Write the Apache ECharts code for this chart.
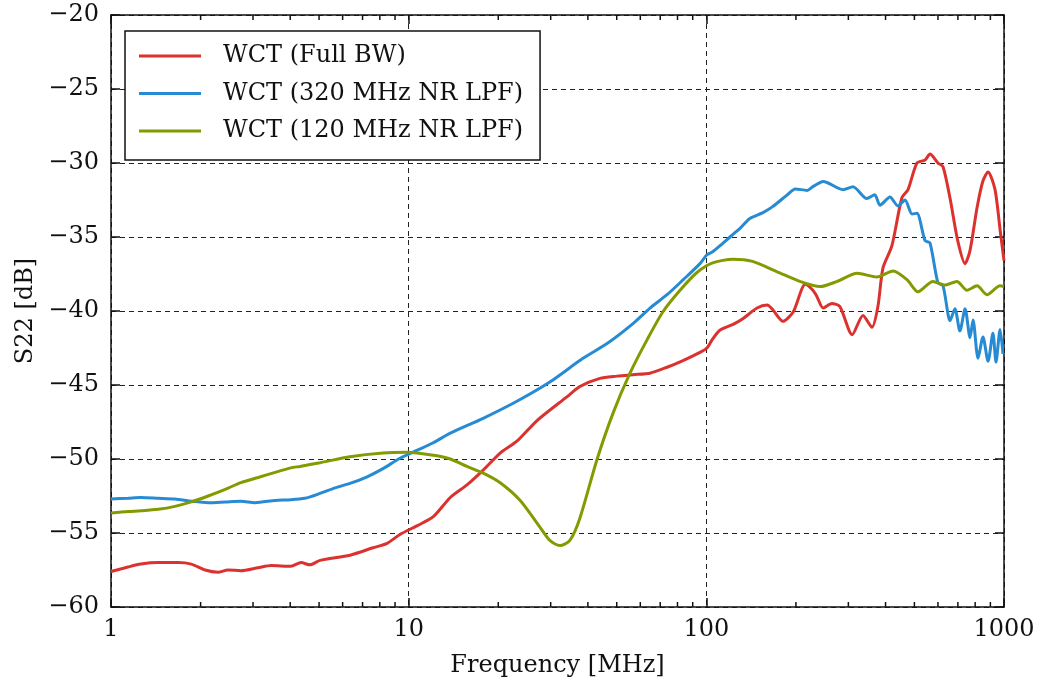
<!DOCTYPE html>
<html>
<head>
<meta charset="utf-8">
<script src="https://cdn.jsdelivr.net/npm/echarts@6/dist/echarts.min.js"></script>
<style>
  html, body { margin: 0; padding: 0; background: #fff; }
  #chart { width: 1040px; height: 686px; }
</style>
</head>
<body>
<div id="chart"></div>
<script>
// S22 reflection of the wall-current transformer, frequency in MHz vs dB
const SERIES_NAMES = ['WCT (Full BW)', 'WCT (320 MHz NR LPF)', 'WCT (120 MHz NR LPF)'];
const SERIES_COLORS = ['#dc322f', '#268bd2', '#859900'];

const fullBW = [
  [1.00,-57.6],[1.14,-57.3],[1.26,-57.1],[1.44,-57.0],[1.68,-57.0],[1.86,-57.1],[2.07,-57.5],
  [2.29,-57.65],[2.47,-57.5],[2.73,-57.55],[3.12,-57.35],[3.45,-57.2],[4.02,-57.25],[4.35,-57.0],
  [4.66,-57.15],[5.04,-56.85],[6.35,-56.5],[7.59,-56.0],[8.46,-55.7],[9.35,-55.1],[10.7,-54.5],
  [12.1,-53.9],[13.8,-52.6],[15.7,-51.75],[17.8,-50.75],[20.3,-49.6],[23.1,-48.8],[27.0,-47.4],
  [34.0,-45.8],[37.6,-45.1],[43.9,-44.55],[50.1,-44.4],[56.7,-44.3],[64.7,-44.2],[73.8,-43.8],
  [83.5,-43.35],[95.2,-42.8],[100.5,-42.5],[104.5,-41.95],[111,-41.3],[123,-40.9],[133,-40.5],
  [148,-39.8],[160,-39.6],[167,-39.9],[181,-40.7],[196,-40.05],[215,-38.2],[228,-38.6],[235,-39.0],
  [247,-39.8],[264,-39.5],[281,-39.7],[309,-41.6],[336,-40.3],[360,-41.1],[377,-39.7],[392,-37.1],
  [420,-35.6],[454,-32.35],[476,-31.8],[510,-30.0],[543,-29.8],[564,-29.4],[600,-30.0],[624,-30.25],
  [659,-32.4],[700,-35.3],[740,-36.8],[769,-35.9],[812,-33.0],[850,-31.2],[884,-30.6],[933,-31.8],
  [970,-34.5],[1000,-36.6]
];

const lpf320 = [
  [1.00,-52.7],[1.14,-52.65],[1.26,-52.6],[1.44,-52.65],[1.64,-52.7],[1.86,-52.85],[2.12,-52.95],
  [2.42,-52.9],[2.73,-52.85],[3.05,-52.95],[3.56,-52.8],[4.02,-52.75],[4.48,-52.65],[4.92,-52.4],
  [5.57,-52.0],[6.35,-51.65],[7.25,-51.2],[8.20,-50.65],[9.35,-49.95],[10.7,-49.4],[12.1,-48.9],
  [13.8,-48.25],[17.8,-47.25],[23.1,-46.1],[29.8,-44.8],[38.5,-43.2],[46.4,-42.2],[56.7,-40.85],
  [64.7,-39.8],[73.8,-38.9],[83.5,-37.9],[95.2,-36.8],[100.5,-36.2],[105,-36.0],[111,-35.6],
  [120,-35.0],[130,-34.4],[140,-33.75],[155,-33.35],[167,-32.95],[187,-32.15],[199,-31.75],
  [218,-31.85],[228,-31.6],[247,-31.25],[288,-31.8],[311,-31.6],[346,-32.4],[368,-32.15],
  [383,-32.85],[414,-32.3],[440,-32.9],[465,-32.5],[491,-33.45],[510,-33.4],[543,-35.25],
  [564,-35.4],[600,-38.1],[624,-38.3],[659,-40.65],[684,-39.85],[711,-41.35],[740,-39.85],
  [769,-41.8],[787,-40.6],[818,-43.2],[850,-41.75],[884,-43.4],[918,-41.5],[940,-43.45],
  [970,-41.25],[992,-42.9]
];

const lpf120 = [
  [1.00,-53.65],[1.14,-53.55],[1.26,-53.5],[1.44,-53.4],[1.64,-53.2],[1.86,-52.9],[2.12,-52.5],
  [2.42,-52.05],[2.73,-51.6],[3.12,-51.25],[3.56,-50.9],[4.02,-50.6],[4.31,-50.5],[5.04,-50.25],
  [6.35,-49.85],[8.20,-49.6],[9.87,-49.55],[12.1,-49.75],[13.8,-50.0],[15.7,-50.5],[17.8,-50.95],
  [20.3,-51.6],[23.7,-52.8],[27.6,-54.6],[29.8,-55.5],[32.2,-55.85],[34.8,-55.5],[37.6,-54.0],
  [42.9,-50.05],[48.6,-46.9],[55.4,-44.2],[63.2,-41.95],[71.5,-40.05],[81.6,-38.6],[93.0,-37.4],
  [105,-36.75],[123,-36.5],[143,-36.65],[173,-37.35],[206,-38.0],[241,-38.35],[275,-38.0],
  [321,-37.45],[374,-37.7],[424,-37.3],[473,-37.9],[514,-38.7],[577,-38.0],[633,-38.25],
  [695,-38.0],[751,-38.6],[812,-38.3],[877,-38.9],[970,-38.3],[1000,-38.35]
];

// Axis ranges and tick positions
const X_MIN = 1, X_MAX = 1000;
const Y_MIN = -60, Y_MAX = -20, Y_STEP = 5;
const X_MINOR_TICKS = [2,3,4,5,6,7,8,9,20,30,40,50,60,70,80,90,200,300,400,500,600,700,800,900];

const FONT = 'DejaVu Serif';
const FONT_SIZE = 24;
const INK = '#111';
const MINOR_TICK_LEN = 5;

const chart = echarts.init(document.getElementById('chart'), null, { renderer: 'canvas' });

const frameLine = { show: true, onZero: false, lineStyle: { color: INK, width: 1.5 } };
const dashedGrid = { show: true, lineStyle: { color: '#222', width: 1, type: [5, 4] } };
const majorTick = { show: true, inside: true, length: 9, lineStyle: { color: INK, width: 1.5 } };

const curveSeries = [fullBW, lpf320, lpf120].map((d, i) => ({
  name: SERIES_NAMES[i],
  type: 'line',
  xAxisIndex: 0, yAxisIndex: 0,
  data: d,
  showSymbol: false, symbol: 'none',
  smooth: 0.25,
  color: SERIES_COLORS[i],
  lineStyle: { color: SERIES_COLORS[i], width: 3 },
  itemStyle: { color: SERIES_COLORS[i] },
  z: 3
}));

// Minor log ticks (2..9 per decade) on the bottom and top frame, placed by the x scale
const minorTickSeries = {
  name: 'minor-ticks',
  type: 'custom',
  xAxisIndex: 0, yAxisIndex: 0,
  silent: true,
  clip: false,
  z: 10,
  data: X_MINOR_TICKS.map(v => [v, Y_MIN]),
  encode: { x: 0, y: 1 },
  renderItem: (params, api) => {
    const f = api.value(0);
    const bottom = api.coord([f, Y_MIN]);
    const top = api.coord([f, Y_MAX]);
    return {
      type: 'group',
      children: [
        { type: 'line', shape: { x1: bottom[0], y1: bottom[1], x2: bottom[0], y2: bottom[1] - MINOR_TICK_LEN },
          style: { stroke: INK, lineWidth: 1.5 } },
        { type: 'line', shape: { x1: top[0], y1: top[1], x2: top[0], y2: top[1] + MINOR_TICK_LEN },
          style: { stroke: INK, lineWidth: 1.5 } }
      ]
    };
  }
};

const option = {
  animation: false,
  backgroundColor: '#fff',
  textStyle: { fontFamily: FONT },
  grid: { left: 111, right: 36, top: 15, bottom: 79, containLabel: false },
  legend: {
    orient: 'vertical',
    left: 125, top: 31,
    padding: [11, 17, 15, 14],
    itemGap: 9.5,
    itemWidth: 62, itemHeight: 3,
    backgroundColor: '#fff',
    borderColor: INK, borderWidth: 1.5, borderRadius: 0,
    textStyle: { fontFamily: FONT, fontSize: FONT_SIZE, color: INK, lineHeight: 28, padding: [0, 0, 0, 17] },
    data: SERIES_NAMES.map(n => ({ name: n, icon: 'rect' }))
  },
  xAxis: [
    {
      type: 'log', logBase: 10, gridIndex: 0, position: 'bottom', min: X_MIN, max: X_MAX,
      name: 'Frequency [MHz]', nameLocation: 'middle', nameGap: 47,
      nameTextStyle: { fontFamily: FONT, fontSize: FONT_SIZE, color: INK },
      axisLine: frameLine,
      axisTick: majorTick,
      axisLabel: { fontFamily: FONT, fontSize: FONT_SIZE, color: INK, margin: 11, formatter: v => String(v) },
      splitLine: dashedGrid
    },
    {
      type: 'log', logBase: 10, gridIndex: 0, position: 'top', min: X_MIN, max: X_MAX,
      axisLine: frameLine,
      axisTick: majorTick,
      axisLabel: { show: false },
      splitLine: { show: false }
    }
  ],
  yAxis: [
    {
      type: 'value', gridIndex: 0, position: 'left', min: Y_MIN, max: Y_MAX, interval: Y_STEP,
      name: 'S22 [dB]', nameLocation: 'middle', nameGap: 73, nameRotate: 90,
      nameTextStyle: { fontFamily: FONT, fontSize: FONT_SIZE, color: INK },
      axisLine: frameLine,
      axisTick: majorTick,
      axisLabel: {
        fontFamily: FONT, fontSize: FONT_SIZE, color: INK, margin: 12,
        formatter: v => String(v).replace('-', '\u2212')
      },
      splitLine: dashedGrid
    },
    {
      type: 'value', gridIndex: 0, position: 'right', min: Y_MIN, max: Y_MAX, interval: Y_STEP,
      axisLine: frameLine,
      axisTick: majorTick,
      axisLabel: { show: false },
      splitLine: { show: false }
    }
  ],
  series: curveSeries.concat([minorTickSeries])
};

chart.setOption(option);
</script>
</body>
</html>
